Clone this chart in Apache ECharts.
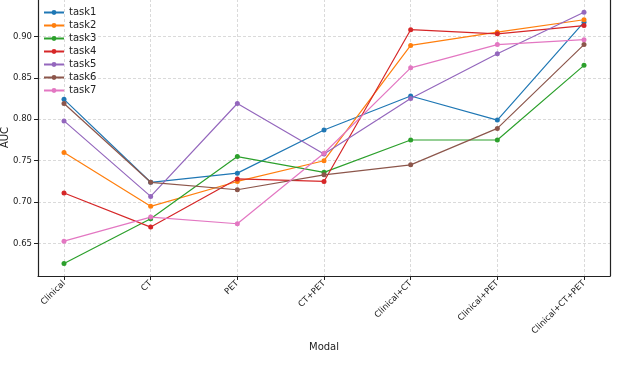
<!DOCTYPE html>
<html>
<head>
<meta charset="utf-8">
<script src="https://cdn.jsdelivr.net/npm/echarts@6/dist/echarts.min.js"></script>
<style>
  html, body { margin: 0; padding: 0; background: #fff; }
  #chart { width: 640px; height: 381px; }
</style>
</head>
<body>
<div id="chart"></div>
<script>
// AUC per modality, one line per task
var categories = ['Clinical', 'CT', 'PET', 'CT+PET', 'Clinical+CT', 'Clinical+PET', 'Clinical+CT+PET'];
var task1 = [0.824, 0.724, 0.735, 0.787, 0.828, 0.799, 0.917];
var task2 = [0.760, 0.695, 0.725, 0.750, 0.889, 0.905, 0.920];
var task3 = [0.626, 0.680, 0.755, 0.736, 0.775, 0.775, 0.865];
var task4 = [0.711, 0.670, 0.728, 0.725, 0.908, 0.903, 0.913];
var task5 = [0.798, 0.707, 0.819, 0.758, 0.825, 0.879, 0.929];
var task6 = [0.819, 0.724, 0.715, 0.733, 0.745, 0.789, 0.890];
var task7 = [0.653, 0.682, 0.674, 0.759, 0.862, 0.890, 0.896];
var seriesNames = ['task1', 'task2', 'task3', 'task4', 'task5', 'task6', 'task7'];
var seriesData = [task1, task2, task3, task4, task5, task6, task7];
var colors = ['#1f77b4', '#ff7f0e', '#2ca02c', '#d62728', '#9467bd', '#8c564b', '#e377c2'];

var font = 'DejaVu Sans';
var gridLine = { show: true, lineStyle: { color: '#d0d0d0', type: [3, 2], width: 0.8 } };

var chart = echarts.init(document.getElementById('chart'));
chart.setOption({
    animation: false,
    color: colors,
    textStyle: { fontFamily: font },
    grid: { left: 38, right: 30, top: -1, bottom: 105, containLabel: false, outerBoundsMode: 'none' },
    legend: {
        orient: 'vertical',
        left: 38,
        top: 2,
        itemWidth: 20,
        itemHeight: 6,
        itemGap: 2,
        itemTextGap: 6,
        textStyle: { fontSize: 10, lineHeight: 11, color: '#222', fontFamily: font },
        data: seriesNames
    },
    xAxis: {
        type: 'value',
        min: -0.3,
        max: 6.3,
        splitNumber: 7,
        name: 'Modal',
        nameLocation: 'middle',
        nameGap: 66,
        nameMoveOverlap: false,
        nameTextStyle: { fontSize: 10, color: '#222', fontFamily: font },
        axisLine: { show: true, onZero: false, lineStyle: { color: '#222', width: 1.2 } },
        axisTick: { show: true, length: 4, lineStyle: { color: '#222' } },
        splitLine: gridLine,
        axisLabel: {
            rotate: 45,
            fontSize: 8.5,
            color: '#222',
            margin: 6,
            showMinLabel: false,
            showMaxLabel: false,
            formatter: function (v) {
                return Math.abs(v - Math.round(v)) < 1e-6 ? (categories[Math.round(v)] || '') : '';
            }
        }
    },
    yAxis: [{
        type: 'value',
        min: 0.611,
        max: 0.945,
        splitNumber: 5,
        name: 'AUC',
        nameLocation: 'middle',
        nameGap: 28,
        nameMoveOverlap: false,
        nameTextStyle: { fontSize: 10, color: '#222', fontFamily: font },
        axisLine: { show: true, onZero: false, lineStyle: { color: '#222', width: 1.2 } },
        axisTick: { show: true, length: 4, lineStyle: { color: '#222' } },
        splitLine: gridLine,
        axisLabel: {
            fontSize: 8.5,
            color: '#222',
            margin: 6,
            showMinLabel: false,
            showMaxLabel: false,
            formatter: function (v) { return v.toFixed(2); }
        }
    }, {
        type: 'value',
        position: 'right',
        min: 0.611,
        max: 0.945,
        axisLine: { show: true, onZero: false, lineStyle: { color: '#222', width: 1.2 } },
        axisTick: { show: false },
        axisLabel: { show: false },
        splitLine: { show: false }
    }],
    series: seriesNames.map(function (name, i) {
        return {
            name: name,
            type: 'line',
            data: seriesData[i].map(function (v, j) { return [j, v]; }),
            symbol: 'circle',
            symbolSize: 5,
            lineStyle: { width: 1.2 },
            emphasis: { disabled: true }
        };
    })
});
</script>
</body>
</html>
